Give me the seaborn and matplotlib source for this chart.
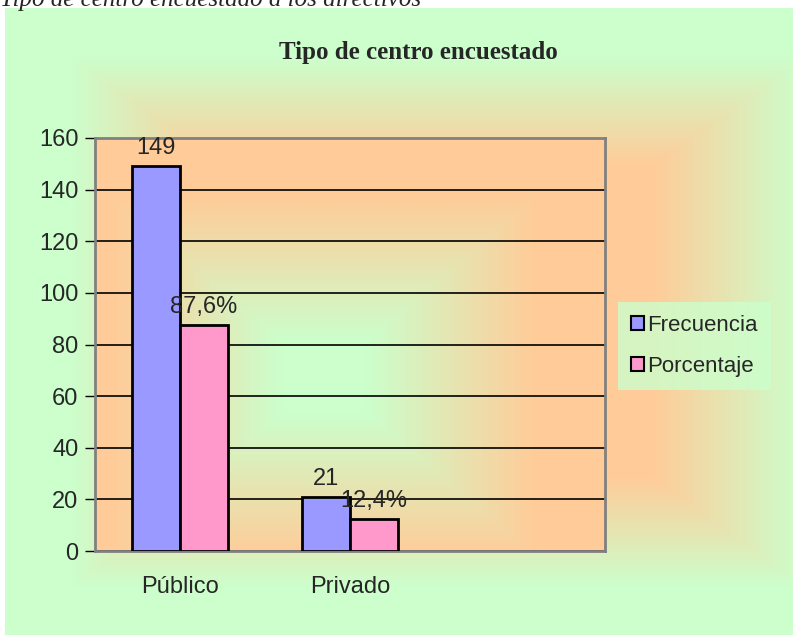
import numpy as np
import pandas as pd
import matplotlib
matplotlib.use("Agg")
import matplotlib.pyplot as plt
import seaborn as sns
from matplotlib.colors import to_rgb

# Data
tipos = ["Público", "Privado"]
frecuencia = [149, 21]
porcentaje = [87.6, 12.4]
etiq_frec = ["149", "21"]
etiq_porc = ["87,6%", "12,4%"]
series = ["Frecuencia", "Porcentaje"]

df = pd.DataFrame({
    "Tipo": tipos * 2,
    "Serie": [series[0]] * len(tipos) + [series[1]] * len(tipos),
    "Valor": frecuencia + porcentaje,
})

sns.set_style("white")
plt.rcParams["font.family"] = ["Liberation Sans", "DejaVu Sans"]

W, H = 793, 635
fig = plt.figure(figsize=(W / 100, H / 100), dpi=100, facecolor="white")

green = np.array(to_rgb("#CCFFCC"))
peach = np.array(to_rgb("#FFCC99"))


def gradient(n, m, cx, cy, lo, hi, inside_peach):
    xs = np.linspace(0, 1, m)
    ys = np.linspace(0, 1, n)
    X, Y = np.meshgrid(xs, ys)
    t = np.maximum(np.abs(X - cx) / max(cx, 1 - cx), np.abs(Y - cy) / max(cy, 1 - cy))
    w = np.clip((t - lo) / (hi - lo), 0, 1)[..., None]
    if inside_peach:
        return peach * (1 - w) + green * w
    return green * (1 - w) + peach * w


# chart area background (green edges, warm centre)
bg = fig.add_axes([5 / W, 0, 788 / W, 627 / H], zorder=0)
bg.imshow(gradient(200, 200, 0.55, 0.5, 0.5, 0.85, True), extent=[0, 1, 0, 1],
          aspect="auto", origin="lower")
bg.set_axis_off()

# truncated caption above the chart
fig.text(0.0, 1.0, "Tipo de centro encuestado a los directivos", fontsize=18,
         family=["Liberation Serif"], style="italic", va="center", ha="left", zorder=5)

ax = fig.add_axes([95 / W, 1 - 551 / H, 510 / W, 413 / H], zorder=2)
ax.imshow(gradient(200, 200, 0.45, 0.42, 0.15, 0.75, False), extent=[-0.5, 2.5, 0, 160],
          aspect="auto", origin="lower", zorder=0)

sns.barplot(data=df, x="Tipo", y="Valor", hue="Serie", order=tipos,
            palette=["#9999FF", "#FF99CC"], width=0.565, edgecolor="black",
            linewidth=2, saturation=1, ax=ax, zorder=3)

for cont, labs in zip(ax.containers, [etiq_frec, etiq_porc]):
    ax.bar_label(cont, labels=labs, padding=5, fontsize=17, zorder=4)

ax.set_xlim(-0.5, 2.5)
ax.set_ylim(0, 160)
ax.set_yticks(range(0, 161, 20))
ax.grid(axis="y", color="black", linewidth=1.2, zorder=1)
ax.set_axisbelow(True)
ax.set_xticks([0, 1])
ax.set_xticklabels(tipos, fontsize=17)
ax.set_xticks([-0.5, 0.5, 1.5, 2.5], minor=True)
ax.tick_params(axis="x", which="major", length=0, pad=18)
ax.tick_params(axis="x", which="minor", length=8, width=1, color="black", direction="out")
ax.tick_params(axis="y", length=7, width=1, color="black", labelsize=17, pad=5,
               left=True, direction="out")
ax.set_xlabel("")
ax.set_ylabel("")
for s in ax.spines.values():
    s.set_visible(True)
    s.set_color("#808080")
    s.set_linewidth(2)

handles, labels = ax.get_legend_handles_labels()
ax.legend_.remove()
leg = fig.legend(handles, labels, loc="center left", bbox_to_anchor=(618 / W, 1 - 346 / H),
                 fontsize=16, frameon=True, facecolor="#CCFFCC", edgecolor="none",
                 fancybox=False, handlelength=0.55, handleheight=0.55, handletextpad=0.15,
                 labelspacing=0.9, borderpad=0.6, borderaxespad=0)
for h in leg.legend_handles:
    h.set_linewidth(1.5)

fig.text(418 / W, 1 - 52 / H, "Tipo de centro encuestado", fontsize=18, fontweight="bold",
         family=["Liberation Serif"], ha="center", va="center")

fig.savefig("out.png", dpi=100, facecolor="white")
